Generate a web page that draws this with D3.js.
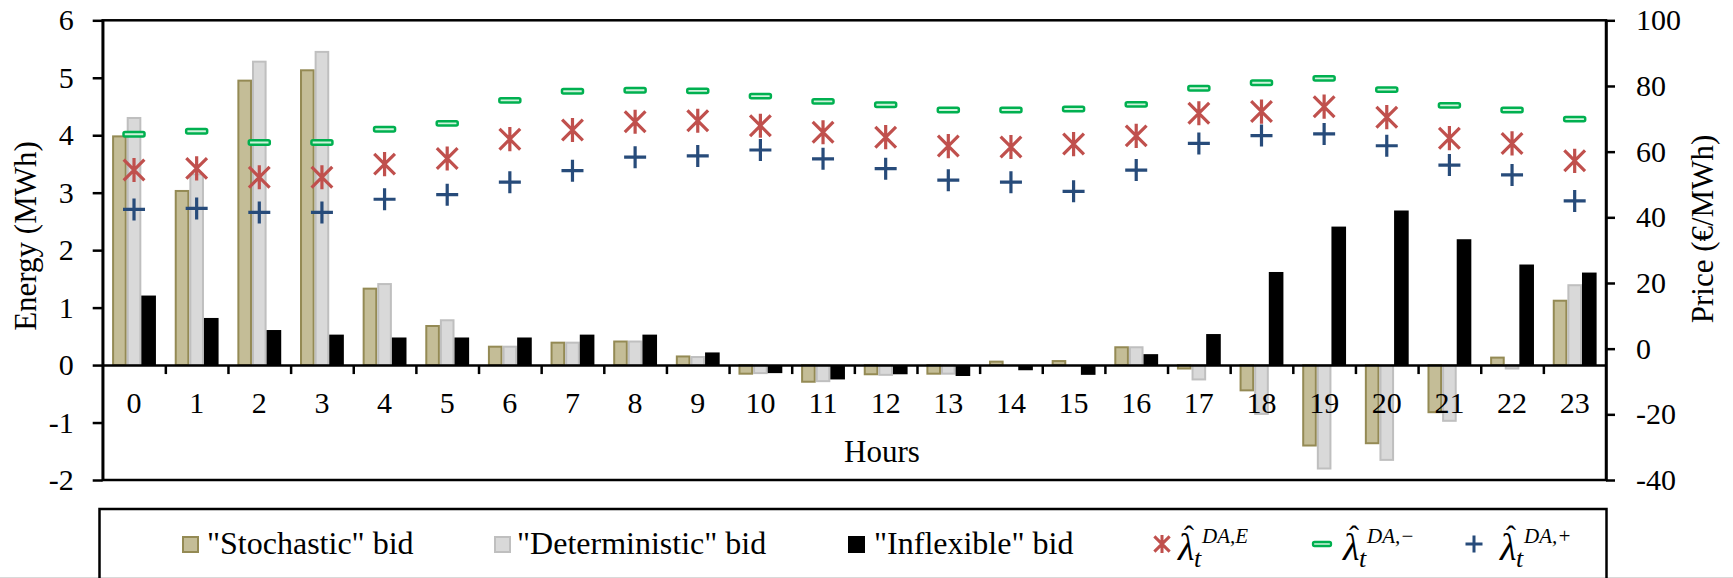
<!DOCTYPE html>
<html lang="en">
<head>
<meta charset="UTF-8">
<script src="https://d3js.org/d3.v7.min.js"></script>
<title>Bids and day-ahead prices</title>
<style>
    body { margin: 0; background: #fff; }
    svg text { font-family: "Liberation Serif", "Times New Roman", "DejaVu Serif", serif; fill: #000; }
</style>
</head>
<body>
<div id="chart"></div>
<script>
    /*------------------- Data --------------------*/
    const hours = ["0", "1", "2", "3", "4", "5", "6", "7", "8", "9", "10", "11",
        "12", "13", "14", "15", "16", "17", "18", "19", "20", "21", "22", "23"];

    // Energy bids (MWh), left axis
    const stochasticBid = [3.98, 3.03, 4.95, 5.13, 1.33, 0.68, 0.32, 0.39, 0.41, 0.15, -0.15, -0.29,
        -0.16, -0.15, 0.06, 0.07, 0.31, -0.06, -0.44, -1.40, -1.36, -0.82, 0.13, 1.12];
    const deterministicBid = [4.30, 3.32, 5.28, 5.45, 1.41, 0.78, 0.32, 0.39, 0.41, 0.14, -0.14, -0.28,
        -0.17, -0.15, 0.0, 0.0, 0.31, -0.25, -0.85, -1.80, -1.65, -0.97, -0.06, 1.39];
    const inflexibleBid = [1.21, 0.82, 0.61, 0.53, 0.48, 0.48, 0.48, 0.53, 0.53, 0.22, -0.14, -0.25,
        -0.16, -0.19, -0.09, -0.17, 0.19, 0.54, 1.62, 2.41, 2.69, 2.19, 1.75, 1.61];

    // Price forecasts (€/MWh), right axis
    const lambdaE = [54.4, 54.9, 52.2, 52.2, 56.2, 57.9, 63.8, 66.6, 69.1, 69.4, 67.9, 65.9,
        64.4, 61.7, 61.4, 62.3, 64.8, 71.7, 72.2, 73.7, 70.5, 64.1, 62.5, 57.2];
    const lambdaMinus = [65.3, 66.2, 62.8, 62.8, 66.8, 68.6, 75.6, 78.4, 78.7, 78.5, 76.9, 75.3,
        74.3, 72.7, 72.7, 73.0, 74.4, 79.3, 81.0, 82.3, 78.9, 74.1, 72.7, 69.9];
    const lambdaPlus = [42.4, 42.7, 41.5, 41.5, 45.5, 46.9, 50.7, 54.2, 58.3, 58.7, 60.5, 57.8,
        54.8, 51.3, 50.7, 47.9, 54.4, 62.5, 64.9, 65.4, 61.8, 55.9, 52.9, 45.0];

    const energyTicks = [-2, -1, 0, 1, 2, 3, 4, 5, 6];
    const priceTicks = [-40, -20, 0, 20, 40, 60, 80, 100];

    const barSeries = [
        { key: "stochastic", label: "\"Stochastic\" bid", values: stochasticBid, fill: "#C4BD97", stroke: "#948A54" },
        { key: "deterministic", label: "\"Deterministic\" bid", values: deterministicBid, fill: "#D9D9D9", stroke: "#BFBFBF" },
        { key: "inflexible", label: "\"Inflexible\" bid", values: inflexibleBid, fill: "#000000", stroke: "#000000" }
    ];

    /*------------------- Layout --------------------*/
    const width = 1733, height = 578;
    const plot = { left: 102.7, right: 1606, top: 20.3, bottom: 480 };
    const serif = "Liberation Serif, Times New Roman, DejaVu Serif, serif";

    const svg = d3.select("#chart").append("svg")
        .attr("width", width)
        .attr("height", height)
        .attr("font-family", serif);

    const x = d3.scaleBand()
        .domain(hours)
        .range([plot.left, plot.right])
        .paddingInner(0.3)
        .paddingOuter(0.15);

    const xInner = d3.scaleBand()
        .domain(barSeries.map(s => s.key))
        .range([0, x.bandwidth()]);

    const xEdge = d3.scaleLinear().domain([0, hours.length]).range([plot.left, plot.right]);

    const yE = d3.scaleLinear().domain([-2, 6]).range([plot.bottom, plot.top]);
    const yP = d3.scaleLinear().domain([-40, 100]).range([plot.bottom, plot.top]);

    /*------------------- Bars --------------------*/
    barSeries.forEach(s => {
        const sw = s.key === "inflexible" ? 0 : 2;
        svg.append("g").selectAll("rect")
            .data(s.values)
            .join("rect")
            .attr("x", (d, i) => x(hours[i]) + xInner(s.key) + sw / 2)
            .attr("width", xInner.bandwidth() - sw)
            .attr("y", d => yE(Math.max(d, 0)))
            .attr("height", d => Math.abs(yE(d) - yE(0)))
            .attr("fill", s.fill)
            .attr("stroke", s.stroke)
            .attr("stroke-width", sw);
    });

    /*------------------- Axes --------------------*/
    function styleAxis(g) {
        g.attr("font-size", 30).attr("font-family", serif);
        g.selectAll("line, path").attr("stroke", "#000").attr("stroke-width", 2.5);
        g.selectAll("text").attr("fill", "#000");
    }

    // plot frame (top and bottom lines)
    svg.append("rect")
        .attr("x", plot.left).attr("y", plot.top)
        .attr("width", plot.right - plot.left).attr("height", plot.bottom - plot.top)
        .attr("fill", "none").attr("stroke", "#000").attr("stroke-width", 2.5);

    svg.append("g")
        .attr("transform", `translate(${plot.left},0)`)
        .call(d3.axisLeft(yE).tickValues(energyTicks).tickSize(10).tickSizeOuter(0)
            .tickPadding(19).tickFormat(d => String(d)))
        .call(styleAxis);

    svg.append("g")
        .attr("transform", `translate(${plot.right},0)`)
        .call(d3.axisRight(yP).tickValues(priceTicks).tickSize(9).tickSizeOuter(0)
            .tickPadding(21).tickFormat(d => String(d)))
        .call(styleAxis);

    // category axis on zero line: tick marks between hours
    svg.append("g")
        .attr("transform", `translate(0,${yE(0)})`)
        .call(d3.axisBottom(xEdge).tickValues(d3.range(1, hours.length)).tickSize(9)
            .tickSizeOuter(0).tickFormat(""))
        .call(styleAxis);

    // hour labels at band centres
    svg.append("g")
        .attr("transform", `translate(0,${yE(0)})`)
        .call(d3.axisBottom(x).tickSize(0).tickPadding(27))
        .call(styleAxis)
        .call(g => g.select(".domain").remove());

    /*------------------- Markers --------------------*/
    const cx = i => x(hours[i]) + x.bandwidth() / 2;

    function starPath(r) {
        const p = d3.path();
        p.moveTo(0, -r * 1.05); p.lineTo(0, r * 1.05);
        p.moveTo(-r * 0.9, -r * 0.9); p.lineTo(r * 0.9, r * 0.9);
        p.moveTo(-r * 0.9, r * 0.9); p.lineTo(r * 0.9, -r * 0.9);
        return p.toString();
    }

    function plusPath(r) {
        const p = d3.path();
        p.moveTo(-r, 0); p.lineTo(r, 0);
        p.moveTo(0, -r); p.lineTo(0, r);
        return p.toString();
    }

    const starColor = "#C0504D", dashColor = "#00B050", plusColor = "#274B7A";

    svg.append("g").selectAll("path")
        .data(lambdaE)
        .join("path")
        .attr("transform", (d, i) => `translate(${cx(i)},${yP(d)})`)
        .attr("d", starPath(11.5))
        .attr("stroke", starColor).attr("stroke-width", 3.2).attr("fill", "none");

    svg.append("g").selectAll("rect")
        .data(lambdaMinus)
        .join("rect")
        .attr("x", (d, i) => cx(i) - 10.5)
        .attr("y", d => yP(d) - 2.2)
        .attr("width", 21).attr("height", 4.4).attr("rx", 1.5)
        .attr("fill", "#CFF3DB").attr("stroke", dashColor).attr("stroke-width", 2.5);

    svg.append("g").selectAll("path")
        .data(lambdaPlus)
        .join("path")
        .attr("transform", (d, i) => `translate(${cx(i)},${yP(d)})`)
        .attr("d", plusPath(11))
        .attr("stroke", plusColor).attr("stroke-width", 3.2).attr("fill", "none");

    /*------------------- Axis titles --------------------*/
    svg.append("text")
        .attr("transform", "translate(36,236) rotate(-90)")
        .attr("text-anchor", "middle")
        .attr("font-size", 31)
        .text("Energy (MWh)");

    svg.append("text")
        .attr("transform", "translate(1713,229) rotate(-90)")
        .attr("text-anchor", "middle")
        .attr("font-size", 31)
        .text("Price (€/MWh)");

    svg.append("text")
        .attr("x", 882).attr("y", 462)
        .attr("text-anchor", "middle")
        .attr("font-size", 31)
        .text("Hours");

    /*------------------- Legend --------------------*/
    const legend = svg.append("g");
    legend.append("line")
        .attr("x1", 0).attr("x2", width).attr("y1", 577.5).attr("y2", 577.5)
        .attr("stroke", "#D9D9D9").attr("stroke-width", 1);
    legend.append("rect")
        .attr("x", 99.5).attr("y", 509)
        .attr("width", 1507).attr("height", 120)
        .attr("fill", "none").attr("stroke", "#000").attr("stroke-width", 2.5);

    const swatchX = [182, 494, 848];
    const swatchText = [207, 517, 874];
    barSeries.forEach((s, k) => {
        const sw = s.key === "inflexible" ? 0 : 2;
        legend.append("rect")
            .attr("x", swatchX[k] + sw / 2).attr("y", 536 + sw / 2)
            .attr("width", 17 - sw).attr("height", 17 - sw)
            .attr("fill", s.fill).attr("stroke", s.stroke).attr("stroke-width", sw);
        legend.append("text")
            .attr("x", swatchText[k]).attr("y", 554)
            .attr("font-size", 32)
            .text(s.label);
    });

    const lambdaItems = [
        { sup: "DA,E", markX: 1162, textX: 1178 },
        { sup: "DA,\u2212", markX: 1322, textX: 1343 },
        { sup: "DA,+", markX: 1474, textX: 1500 }
    ];
    const legendY = 544;

    legend.append("path")
        .attr("transform", `translate(${lambdaItems[0].markX},${legendY})`)
        .attr("d", starPath(8.5))
        .attr("stroke", starColor).attr("stroke-width", 3).attr("fill", "none");
    legend.append("rect")
        .attr("x", lambdaItems[1].markX - 9).attr("y", legendY - 2)
        .attr("width", 18).attr("height", 4).attr("rx", 1.5)
        .attr("fill", "#CFF3DB").attr("stroke", dashColor).attr("stroke-width", 2.3);
    legend.append("path")
        .attr("transform", `translate(${lambdaItems[2].markX},${legendY})`)
        .attr("d", plusPath(8.5))
        .attr("stroke", plusColor).attr("stroke-width", 3).attr("fill", "none");

    // hat, lambda, subscript t and superscript in one text element
    lambdaItems.forEach(item => {
        const t = legend.append("text").attr("font-style", "italic");
        t.append("tspan")
            .attr("x", item.textX).attr("y", 560)
            .attr("font-size", 38)
            .text("λ");
        t.append("tspan")
            .attr("x", item.textX + 6).attr("y", 546)
            .attr("font-style", "normal")
            .attr("font-size", 30)
            .text("ˆ");
        t.append("tspan")
            .attr("x", item.textX + 16).attr("y", 567)
            .attr("font-size", 26)
            .text("t");
        t.append("tspan")
            .attr("x", item.textX + 24).attr("y", 543)
            .attr("font-size", 21)
            .text(item.sup);
    });
</script>
</body>
</html>
